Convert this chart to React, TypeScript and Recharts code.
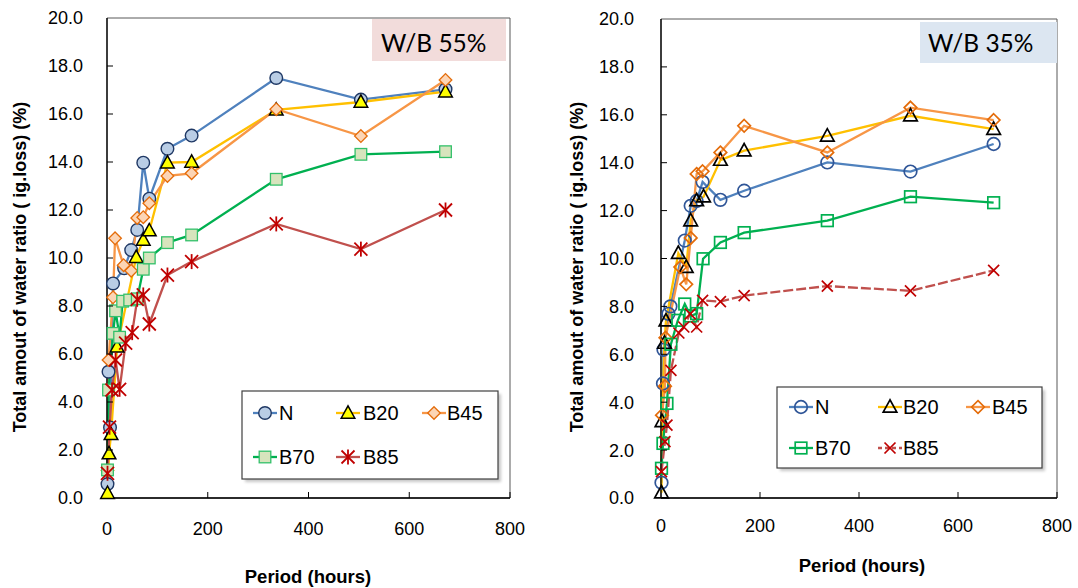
import React from 'react';
import { LineChart, Line, XAxis, YAxis, ReferenceArea, Label } from 'recharts';

// ---------- axes ----------
const X_TICKS = [0, 200, 400, 600, 800];
const Y_TICKS = [0, 2, 4, 6, 8, 10, 12, 14, 16, 18, 20];
const SERIES_NAMES = ['N', 'B20', 'B45', 'B70', 'B85'];
const TITLE_LEFT = 'W/B 55%';
const TITLE_RIGHT = 'W/B 35%';
const Y_TITLE = 'Total amout of water ratio ( ig.loss) (%)';
const X_TITLE = 'Period (hours)';

// ---------- W/B 55% (left) ----------
const L_N_T = [1, 3, 6, 12, 34, 48, 60, 72, 84, 120, 168, 336, 504, 672];
const L_N_V = [0.58, 5.26, 2.94, 8.94, 9.57, 10.33, 11.17, 13.97, 12.47, 14.55, 15.1, 17.5, 16.6, 17.03];
const L_B20_T = [1, 4, 8, 20, 58, 72, 84, 120, 168, 336, 504, 672];
const L_B20_V = [0.2, 1.85, 2.65, 6.3, 10.03, 10.75, 11.14, 13.97, 14.0, 16.17, 16.5, 16.93];
const L_B45_T = [1, 3, 12, 16, 33, 48, 60, 72, 84, 120, 168, 336, 504, 672];
const L_B45_V = [1.15, 5.75, 8.36, 10.82, 9.7, 9.47, 11.67, 11.7, 12.28, 13.42, 13.53, 16.2, 15.08, 17.42];
const L_B70_T = [1, 3, 12, 17, 25, 31, 45, 60, 72, 84, 120, 168, 336, 504, 672];
const L_B70_V = [1.17, 4.5, 6.86, 7.8, 6.7, 8.2, 8.25, 8.3, 9.53, 10.0, 10.64, 10.96, 13.28, 14.32, 14.43];
const L_B85_T = [1, 5, 10, 17, 25, 37, 50, 60, 72, 84, 120, 168, 336, 504, 672];
const L_B85_V = [1.03, 2.95, 4.5, 5.75, 4.53, 6.45, 6.89, 8.28, 8.46, 7.25, 9.29, 9.85, 11.42, 10.37, 12.0];

// ---------- W/B 35% (right) ----------
const R_N_T = [1, 4, 5, 15, 19, 48, 60, 72, 84, 120, 168, 336, 504, 672];
const R_N_V = [0.64, 4.78, 6.19, 7.69, 8.0, 10.75, 12.2, 12.4, 13.2, 12.45, 12.83, 14.01, 13.63, 14.78];
const R_B20_T = [1, 2, 7, 10, 35, 51, 60, 72, 86, 120, 168, 336, 504, 672];
const R_B20_V = [0.22, 3.2, 6.47, 7.4, 10.22, 9.64, 11.58, 12.42, 12.58, 14.11, 14.5, 15.12, 15.96, 15.4];
const R_B45_T = [2, 8, 9, 39, 51, 60, 72, 84, 120, 168, 336, 504, 672];
const R_B45_V = [3.46, 4.67, 6.69, 9.64, 8.92, 10.86, 13.53, 13.64, 14.43, 15.54, 14.43, 16.3, 15.78];
const R_B70_T = [1, 4, 12, 20, 34, 48, 60, 72, 85, 120, 168, 336, 504, 672];
const R_B70_V = [1.24, 2.28, 3.95, 6.42, 7.42, 8.1, 7.6, 7.7, 9.99, 10.67, 11.08, 11.58, 12.58, 12.33];
const R_B85_T = [1, 8, 12, 20, 36, 46, 59, 72, 84, 120, 168, 336, 504, 672];
const R_B85_V = [1.1, 2.35, 3.04, 5.33, 6.89, 7.14, 7.69, 7.14, 8.25, 8.2, 8.45, 8.85, 8.65, 9.5];

const zip = (t: number[], v: number[]) => t.map((x, i) => ({ t: x, v: v[i] }));

const FONT = '"Liberation Sans", Arial, sans-serif';

type Kind = 'circle' | 'triangle' | 'diamond' | 'square' | 'star' | 'x';
interface Style {
  kind: Kind;
  line: string;
  fill: string;
  stroke: string;
  sw: number;
  dash?: string;
}

function Marker({ kind, cx, cy, fill, stroke, sw }: { kind: Kind; cx: number; cy: number; fill: string; stroke: string; sw: number }) {
  if (cx == null || cy == null || isNaN(cx) || isNaN(cy)) return null;
  switch (kind) {
    case 'circle':
      return <circle cx={cx} cy={cy} r={6.3} fill={fill} stroke={stroke} strokeWidth={sw} />;
    case 'triangle':
      return (
        <polygon
          points={`${cx},${cy - 7.2} ${cx - 6.8},${cy + 5.2} ${cx + 6.8},${cy + 5.2}`}
          fill={fill}
          stroke={stroke}
          strokeWidth={sw}
          strokeLinejoin="miter"
        />
      );
    case 'diamond':
      return (
        <polygon
          points={`${cx},${cy - 6.3} ${cx + 6.3},${cy} ${cx},${cy + 6.3} ${cx - 6.3},${cy}`}
          fill={fill}
          stroke={stroke}
          strokeWidth={sw}
        />
      );
    case 'square':
      return <rect x={cx - 5.8} y={cy - 5.8} width={11.6} height={11.6} fill={fill} stroke={stroke} strokeWidth={sw} />;
    case 'star':
      return (
        <g stroke={stroke} strokeWidth={sw} strokeLinecap="butt">
          <line x1={cx} y1={cy - 7.5} x2={cx} y2={cy + 7.5} />
          <line x1={cx - 6.5} y1={cy - 6.5} x2={cx + 6.5} y2={cy + 6.5} />
          <line x1={cx - 6.5} y1={cy + 6.5} x2={cx + 6.5} y2={cy - 6.5} />
        </g>
      );
    case 'x':
      return (
        <g stroke={stroke} strokeWidth={sw}>
          <line x1={cx - 5.5} y1={cy - 5.5} x2={cx + 5.5} y2={cy + 5.5} />
          <line x1={cx - 5.5} y1={cy + 5.5} x2={cx + 5.5} y2={cy - 5.5} />
        </g>
      );
  }
  return null;
}

const LEFT_STYLES: Style[] = [
  { kind: 'circle', line: '#4F81BD', fill: '#B9CDE5', stroke: '#1F3864', sw: 1.4 },
  { kind: 'triangle', line: '#FFC000', fill: '#FFFF00', stroke: '#000000', sw: 1.5 },
  { kind: 'diamond', line: '#F79646', fill: '#FCD5B5', stroke: '#E46C0A', sw: 1.3 },
  { kind: 'square', line: '#00B050', fill: '#D7E4BD', stroke: '#33C06A', sw: 1.3 },
  { kind: 'star', line: '#C0504D', fill: 'none', stroke: '#C00000', sw: 1.8 },
];

const RIGHT_STYLES: Style[] = [
  { kind: 'circle', line: '#4F81BD', fill: 'none', stroke: '#2F5597', sw: 1.7 },
  { kind: 'triangle', line: '#FFC000', fill: 'none', stroke: '#000000', sw: 1.7 },
  { kind: 'diamond', line: '#F79646', fill: 'none', stroke: '#E46C0A', sw: 1.7 },
  { kind: 'square', line: '#00B050', fill: 'none', stroke: '#00B050', sw: 1.7 },
  { kind: 'x', line: '#C0504D', fill: 'none', stroke: '#C00000', sw: 1.7, dash: '10 3' },
];

const LEFT_DATA = [
  zip(L_N_T, L_N_V),
  zip(L_B20_T, L_B20_V),
  zip(L_B45_T, L_B45_V),
  zip(L_B70_T, L_B70_V),
  zip(L_B85_T, L_B85_V),
];
const RIGHT_DATA = [
  zip(R_N_T, R_N_V),
  zip(R_B20_T, R_B20_V),
  zip(R_B45_T, R_B45_V),
  zip(R_B70_T, R_B70_V),
  zip(R_B85_T, R_B85_V),
];

const TICK_FONT = 18;

function makeYTick(margin: number) {
  return (p: any) => {
    const axisX = p.x + margin;
    return (
      <g>
        {p.payload.value !== 0 && p.payload.value !== 20 ? (
          <line x1={axisX} x2={axisX + 6} y1={p.y} y2={p.y} stroke="#000" strokeWidth={1} />
        ) : null}
        <text x={p.x} y={p.y} dy="0.36em" textAnchor="end" fontFamily={FONT} fontSize={TICK_FONT} fill="#000">
          {Number(p.payload.value).toFixed(1)}
        </text>
      </g>
    );
  };
}

function makeXTick(margin: number) {
  return (p: any) => {
    const axisY = p.y - margin;
    return (
      <g>
        {p.payload.value !== 0 ? (
          <line x1={p.x} x2={p.x} y1={axisY} y2={axisY - 6} stroke="#000" strokeWidth={1} />
        ) : null}
        <text x={p.x} y={p.y} dy="0.72em" textAnchor="middle" fontFamily={FONT} fontSize={TICK_FONT} fill="#000">
          {p.payload.value}
        </text>
      </g>
    );
  };
}

interface PanelProps {
  width: number;
  margin: { top: number; right: number; bottom: number; left: number };
  data: { t: number; v: number }[][];
  styles: Style[];
  yGap: number;
  xGap: number;
  yTitleX: number;
  xTitleY: number;
  xTitleX: number;
}

function Panel({ width, margin, data, styles, yGap, xGap, yTitleX, xTitleY, xTitleX }: PanelProps) {
  return (
    <LineChart width={width} height={588} margin={margin}>
      <XAxis
        type="number"
        dataKey="t"
        domain={[0, 800]}
        ticks={X_TICKS}
        tickSize={0}
        tickMargin={xGap}
        tick={makeXTick(xGap)}
        axisLine={{ stroke: '#000', strokeWidth: 1.3 }}
        tickLine={false}
        height={60}
        interval={0}
      >
        <Label
          content={() => (
            <text x={xTitleX} y={xTitleY} textAnchor="middle" fontFamily={FONT} fontWeight="bold" fontSize={18.5} fill="#000">
              {X_TITLE}
            </text>
          )}
        />
      </XAxis>
      <YAxis
        type="number"
        dataKey="v"
        domain={[0, 20]}
        ticks={Y_TICKS}
        tickSize={0}
        tickMargin={yGap}
        tick={makeYTick(yGap)}
        axisLine={{ stroke: '#000', strokeWidth: 1.3 }}
        tickLine={false}
        width={70}
        interval={0}
      >
        <Label
          content={() => (
            <text
              x={yTitleX}
              y={267}
              transform={`rotate(-90 ${yTitleX} 267)`}
              textAnchor="middle"
              dominantBaseline="central"
              fontFamily={FONT}
              fontWeight="bold"
              fontSize={18}
              fill="#000"
            >
              {Y_TITLE}
            </text>
          )}
        />
      </YAxis>
      <ReferenceArea x1={0} x2={800} y1={0} y2={20} fill="none" stroke="#595959" strokeWidth={1} ifOverflow="visible" />
      {data.map((d, i) => {
        const s = styles[i];
        return (
          <Line
            key={SERIES_NAMES[i]}
            data={d}
            dataKey="v"
            name={SERIES_NAMES[i]}
            type="linear"
            stroke={s.line}
            strokeWidth={2.3}
            strokeDasharray={s.dash}
            isAnimationActive={false}
            dot={(p: any) => (
              <Marker key={`${SERIES_NAMES[i]}-${p.index}`} kind={s.kind} cx={p.cx} cy={p.cy} fill={s.fill} stroke={s.stroke} sw={s.sw} />
            )}
            activeDot={false}
          />
        );
      })}
    </LineChart>
  );
}

function LegendBox({ x, y, w, h, rows, cols, textCols, styles }: { x: number; y: number; w: number; h: number; rows: number[]; cols: number[]; textCols: number[]; styles: Style[] }) {
  const pos = [
    [0, 0],
    [1, 0],
    [2, 0],
    [0, 1],
    [1, 1],
  ];
  return (
    <g>
      <rect x={x + 3} y={y + 3} width={w} height={h} fill="#000" opacity={0.22} filter="url(#blur)" />
      <rect x={x} y={y} width={w} height={h} fill="#fff" stroke="#404040" strokeWidth={1.2} />
      {styles.map((s, i) => {
        const cx = cols[pos[i][0]];
        const cy = rows[pos[i][1]];
        const tx = textCols[pos[i][0]];
        return (
          <g key={SERIES_NAMES[i]}>
            <line x1={cx - 12} x2={cx + 12} y1={cy} y2={cy} stroke={s.line} strokeWidth={2.3} strokeDasharray={s.dash ? '4 3' : undefined} />
            <Marker kind={s.kind} cx={cx} cy={cy} fill={s.fill} stroke={s.stroke} sw={s.sw} />
            <text x={tx} y={cy + 7} fontFamily={FONT} fontSize={20} fill="#000">
              {SERIES_NAMES[i]}
            </text>
          </g>
        );
      })}
    </g>
  );
}

export default function App() {
  return (
    <div style={{ position: 'absolute', left: 0, top: 0, width: 1078, height: 588, background: '#fff', overflow: 'hidden' }}>
      <div style={{ position: 'absolute', left: 0, top: 0 }}>
        <Panel
          width={540}
          margin={{ top: 18, right: 30, bottom: 30, left: 37 }}
          data={LEFT_DATA}
          styles={LEFT_STYLES}
          yGap={24}
          xGap={24}
          yTitleX={20}
          xTitleY={583}
          xTitleX={308}
        />
      </div>
      <div style={{ position: 'absolute', left: 540, top: 0 }}>
        <Panel
          width={538}
          margin={{ top: 19, right: 21, bottom: 30, left: 51 }}
          data={RIGHT_DATA}
          styles={RIGHT_STYLES}
          yGap={27}
          xGap={21}
          yTitleX={37}
          xTitleY={572}
          xTitleX={322}
        />
      </div>
      <svg width={1078} height={588} style={{ position: 'absolute', left: 0, top: 0, pointerEvents: 'none' }}>
        <defs>
          <filter id="blur" x="-10%" y="-10%" width="120%" height="120%">
            <feGaussianBlur stdDeviation="1.5" />
          </filter>
        </defs>
        <rect x={372} y={19} width={134} height={42} fill="#F2DCDB" />
        <text x={381} y={52} fontFamily="Lato, 'Open Sans', sans-serif" fontSize={24.5} fill="#000">
          {TITLE_LEFT}
        </text>
        <rect x={920} y={22} width={137} height={41} fill="#DCE6F1" />
        <text x={928} y={52} fontFamily="Lato, 'Open Sans', sans-serif" fontSize={24.5} fill="#000">
          {TITLE_RIGHT}
        </text>
        <LegendBox x={242} y={391} w={256} h={88} rows={[413, 457]} cols={[265, 348, 434]} textCols={[279, 363, 447]} styles={LEFT_STYLES} />
        <LegendBox x={777} y={387} w={265} h={81} rows={[407, 448]} cols={[801, 890, 978]} textCols={[815, 903, 992]} styles={RIGHT_STYLES} />
      </svg>
    </div>
  );
}
